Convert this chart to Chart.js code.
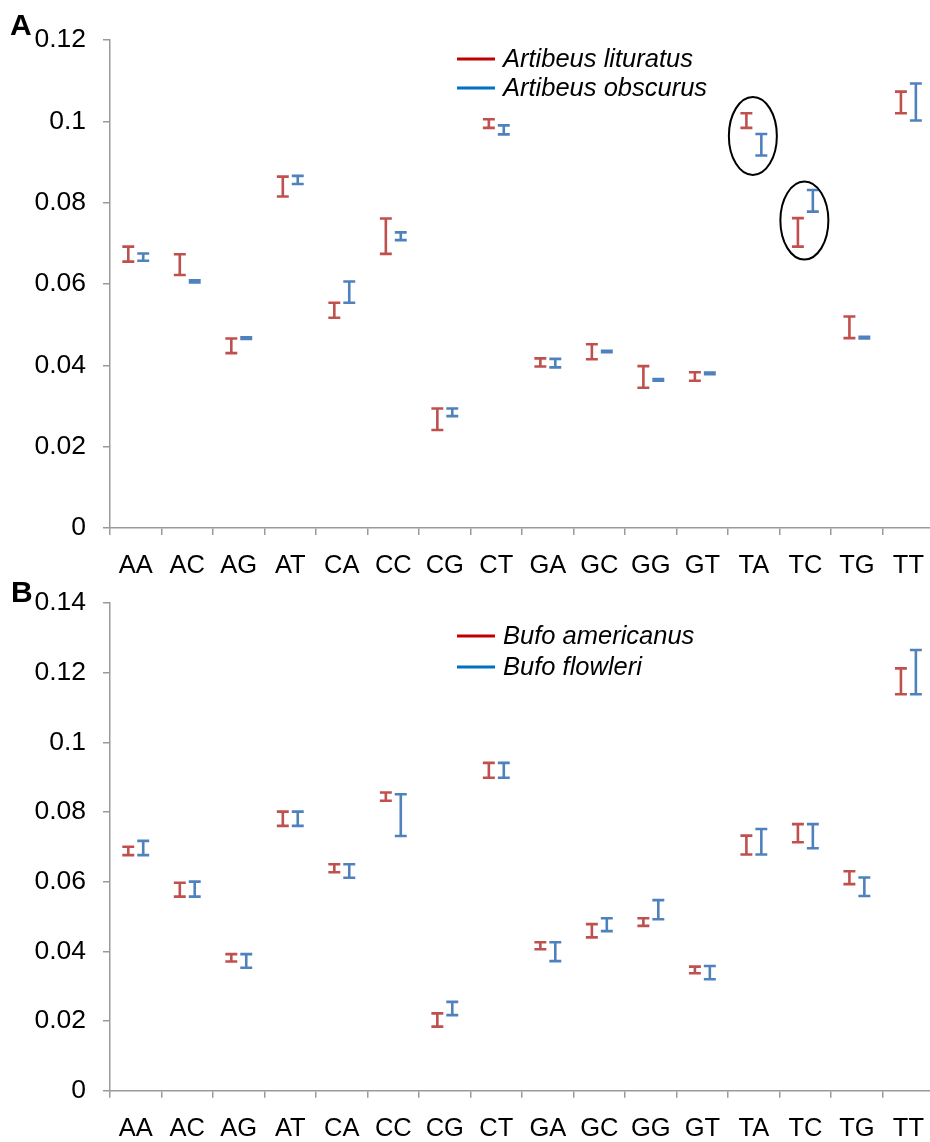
<!DOCTYPE html>
<html>
<head>
<meta charset="utf-8">
<script src="https://cdn.jsdelivr.net/npm/chart.js@4.4.1/dist/chart.umd.min.js"></script>
<style>
    html, body { margin: 0; padding: 0; background: #ffffff; }
    body { width: 930px; height: 1142px; overflow: hidden; position: relative; }
    .panel { position: absolute; left: 0; width: 940px; }
    #panelA { top: 0; height: 595px; }
    #panelB { top: 570px; height: 572px; }
</style>
</head>
<body>
<div class="panel" id="panelA"><canvas id="chartA" width="940" height="595"></canvas></div>
<div class="panel" id="panelB"><canvas id="chartB" width="940" height="572"></canvas></div>
<script>
// dinucleotide categories (x axis)
var categories = ['AA', 'AC', 'AG', 'AT', 'CA', 'CC', 'CG', 'CT', 'GA', 'GC', 'GG', 'GT', 'TA', 'TC', 'TG', 'TT'];

// panel A: [low, high] of each range
var lituratusRange = [
    [0.0655, 0.0692], [0.0622, 0.0673], [0.0430, 0.0466], [0.0815, 0.0864],
    [0.0517, 0.0554], [0.0674, 0.0761], [0.0241, 0.0294], [0.0984, 0.1005],
    [0.0397, 0.0417], [0.0415, 0.0452], [0.0345, 0.0398], [0.0362, 0.0383],
    [0.0984, 0.1020], [0.0692, 0.0762], [0.0467, 0.0520], [0.1020, 0.1073]
];
var obscurusRange = [
    [0.0657, 0.0675], [0.0604, 0.0609], [0.0465, 0.0469], [0.0846, 0.0866],
    [0.0554, 0.0606], [0.0708, 0.0727], [0.0275, 0.0294], [0.0968, 0.0990],
    [0.0395, 0.0416], [0.0432, 0.0436], [0.0362, 0.0366], [0.0378, 0.0382],
    [0.0916, 0.0969], [0.0778, 0.0831], [0.0466, 0.0470], [0.1002, 0.1093]
];

// panel B
var americanusRange = [
    [0.0676, 0.0700], [0.0557, 0.0597], [0.0371, 0.0392], [0.0760, 0.0801],
    [0.0627, 0.0650], [0.0832, 0.0856], [0.0184, 0.0222], [0.0898, 0.0941],
    [0.0406, 0.0426], [0.0440, 0.0478], [0.0473, 0.0495], [0.0337, 0.0356],
    [0.0678, 0.0732], [0.0713, 0.0765], [0.0593, 0.0630], [0.1138, 0.1212]
];
var flowleriRange = [
    [0.0676, 0.0717], [0.0557, 0.0600], [0.0353, 0.0392], [0.0760, 0.0801],
    [0.0611, 0.0650], [0.0731, 0.0851], [0.0217, 0.0255], [0.0898, 0.0941],
    [0.0372, 0.0426], [0.0458, 0.0495], [0.0492, 0.0547], [0.0320, 0.0358],
    [0.0678, 0.0751], [0.0696, 0.0765], [0.0559, 0.0612], [0.1138, 0.1265]
];

var yTicksA = ['0', '0.02', '0.04', '0.06', '0.08', '0.1', '0.12'];
var yTicksB = ['0', '0.02', '0.04', '0.06', '0.08', '0.1', '0.12', '0.14'];

// circled points in panel A
var circledCats = ['TA', 'TC'];
var circledVals = [0.0964, 0.0756];

(function () {
    'use strict';

    var C = {
        red: '#c0504d',
        blue: '#4f81bd',
        legendRed: '#c00000',
        legendBlue: '#0070c0',
        axis: '#9a9a9a',
        text: '#000000'
    };
    var FONT = "'Liberation Sans', Arial, Helvetica, sans-serif";

    Chart.defaults.font.family = FONT;
    Chart.defaults.font.size = 25.5;
    Chart.defaults.color = C.text;

    var errorBars = {
        id: 'errorBars',
        afterDatasetsDraw: function (chart) {
            var ctx = chart.ctx;
            ctx.save();
            chart.data.datasets.forEach(function (ds, i) {
                var meta = chart.getDatasetMeta(i);
                ctx.strokeStyle = ds.borderColor;
                ctx.lineWidth = 2.6;
                ctx.lineCap = 'butt';
                meta.data.forEach(function (bar) {
                    var p = bar.getProps(['x', 'y', 'base', 'width'], true);
                    var half = p.width / 2;
                    var top = Math.min(p.y, p.base);
                    var bot = Math.max(p.y, p.base);
                    ctx.beginPath();
                    ctx.moveTo(p.x, top);
                    ctx.lineTo(p.x, bot);
                    ctx.moveTo(p.x - half, top);
                    ctx.lineTo(p.x + half, top);
                    ctx.moveTo(p.x - half, bot);
                    ctx.lineTo(p.x + half, bot);
                    ctx.stroke();
                });
            });
            ctx.restore();
        }
    };

    var overlay = {
        id: 'overlay',
        afterDraw: function (chart, args, opts) {
            var ctx = chart.ctx;
            ctx.save();

            // panel letter
            ctx.font = 'bold 30px ' + FONT;
            ctx.fillStyle = C.text;
            ctx.textBaseline = 'alphabetic';
            ctx.textAlign = 'left';
            ctx.fillText(opts.letter, opts.letterX, opts.letterY);

            // legend
            ctx.font = 'italic 25.5px ' + FONT;
            ctx.textBaseline = 'middle';
            chart.data.datasets.forEach(function (ds, i) {
                var y = opts.legendY[i];
                ctx.strokeStyle = opts.legendColors[i];
                ctx.lineWidth = 2.8;
                ctx.beginPath();
                ctx.moveTo(457, y);
                ctx.lineTo(495, y);
                ctx.stroke();
                ctx.fillText(ds.label, 503, y + 1);
            });

            // ellipses round highlighted pairs
            if (opts.circles) {
                var xs = chart.scales.x;
                var ys = chart.scales.y;
                ctx.strokeStyle = '#000000';
                ctx.lineWidth = 2;
                opts.circles.cats.forEach(function (cat, i) {
                    var cx = xs.getPixelForValue(categories.indexOf(cat)) - 1;
                    var cy = ys.getPixelForValue(opts.circles.vals[i]);
                    ctx.beginPath();
                    ctx.ellipse(cx, cy, 24, 39, 0, 0, Math.PI * 2);
                    ctx.stroke();
                });
            }
            ctx.restore();
        }
    };

    function dataset(label, range, color) {
        return {
            label: label,
            data: range,
            backgroundColor: 'rgba(0,0,0,0)',
            borderColor: color,
            borderWidth: 0,
            categoryPercentage: 0.58,
            barPercentage: 0.8
        };
    }

    function scales(tickLabels, max, xHeight) {
        return {
            x: {
                type: 'category',
                offset: true,
                grid: {
                    offset: true,
                    drawOnChartArea: false,
                    drawTicks: true,
                    tickLength: 7,
                    color: C.axis,
                    lineWidth: 1.5
                },
                border: { display: true, color: C.axis, width: 1.5 },
                ticks: { autoSkip: false, maxRotation: 0, padding: 16, color: C.text },
                afterFit: function (s) { s.height = xHeight; }
            },
            y: {
                min: 0,
                max: max,
                grid: {
                    drawOnChartArea: false,
                    drawTicks: true,
                    tickLength: 7,
                    color: C.axis,
                    lineWidth: 1.5
                },
                border: { display: true, color: C.axis, width: 1.5 },
                ticks: {
                    padding: 17,
                    color: C.text,
                    font: { size: 26.5 },
                    callback: function (value, index) { return tickLabels[index]; }
                },
                afterBuildTicks: function (s) {
                    s.ticks = tickLabels.map(function (t) { return { value: parseFloat(t) }; });
                },
                afterFit: function (s) { s.width = 110; }
            }
        };
    }

    function makeChart(id, cfg) {
        return new Chart(document.getElementById(id), {
            type: 'bar',
            data: {
                labels: categories,
                datasets: [
                    dataset(cfg.names[0], cfg.ranges[0], C.red),
                    dataset(cfg.names[1], cfg.ranges[1], C.blue)
                ]
            },
            options: {
                responsive: false,
                animation: false,
                events: [],
                devicePixelRatio: 1,
                layout: { padding: { top: cfg.top, right: 1, left: 0, bottom: 0 } },
                plugins: {
                    legend: { display: false },
                    tooltip: { enabled: false },
                    overlay: {
                        letter: cfg.letter,
                        letterX: cfg.letterX,
                        letterY: cfg.letterY,
                        legendY: cfg.legendY,
                        legendColors: [C.legendRed, C.legendBlue],
                        circles: cfg.circles
                    }
                },
                scales: scales(cfg.ticks, cfg.max, cfg.xHeight)
            },
            plugins: [errorBars, overlay]
        });
    }

    makeChart('chartA', {
        names: ['Artibeus lituratus', 'Artibeus obscurus'],
        ranges: [lituratusRange, obscurusRange],
        ticks: yTicksA,
        max: 0.12,
        top: 40,
        xHeight: 67,
        letter: 'A',
        letterX: 10,
        letterY: 35,
        legendY: [59, 88],
        circles: { cats: circledCats, vals: circledVals }
    });

    makeChart('chartB', {
        names: ['Bufo americanus', 'Bufo flowleri'],
        ranges: [americanusRange, flowleriRange],
        ticks: yTicksB,
        max: 0.14,
        top: 32.7,
        xHeight: 51.3,
        letter: 'B',
        letterX: 11,
        letterY: 31.7,
        legendY: [66, 97],
        circles: null
    });
})();
</script>
</body>
</html>
